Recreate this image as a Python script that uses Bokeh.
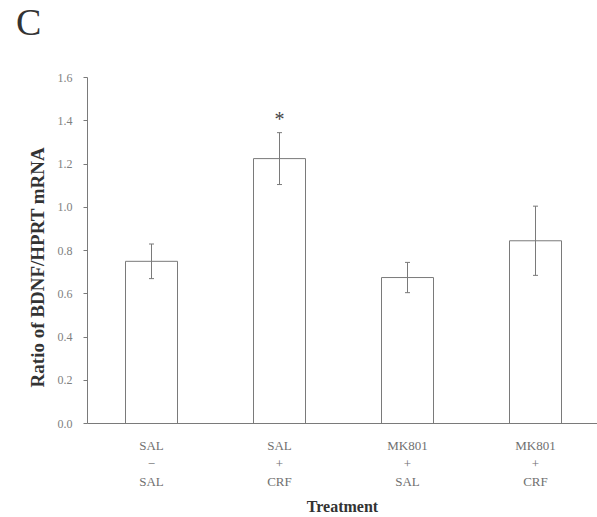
from bokeh.plotting import figure
from bokeh.models import Range1d, Label, ColumnDataSource, Whisker, TeeHead, FixedTicker, Div
from bokeh.layouts import column
from bokeh.embed import file_html
from bokeh.resources import INLINE

# data
panel_letter = "C"
top_line = ["SAL", "SAL", "MK801", "MK801"]
mid_line = ["\u2212", "+", "+", "+"]
bot_line = ["SAL", "CRF", "SAL", "CRF"]
means = [0.75, 1.225, 0.675, 0.845]
errors = [0.08, 0.12, 0.07, 0.16]
y_ticks = [0.0, 0.2, 0.4, 0.6, 0.8, 1.0, 1.2, 1.4, 1.6]

xs = [i + 0.5 for i in range(len(means))]
SERIF = "Liberation Serif"
GRAY = "#7a7a7a"
LBL = "#707070"
TOP_H = 46

letter = Div(text=panel_letter, width=597, height=TOP_H,
             styles={"font-family": SERIF, "font-size": "38px", "color": "#333333",
                     "line-height": "1.2", "padding-left": "16px", "padding-top": "0px",
                     "margin": "0px"})

p = figure(width=597, height=517 - TOP_H, output_backend="svg", toolbar_location=None,
           x_range=Range1d(0, 510 / 128), y_range=Range1d(0, 1.6),
           min_border_left=87, min_border_right=0, min_border_top=77 - TOP_H,
           min_border_bottom=94)
p.outline_line_color = None
p.grid.visible = False

p.vbar(x=xs, top=means, width=52 / 128, bottom=0, fill_color="white",
       line_color=GRAY, line_width=1)

src = ColumnDataSource(dict(x=xs, up=[m + e for m, e in zip(means, errors)],
                            lo=[m - e for m, e in zip(means, errors)]))
p.add_layout(Whisker(source=src, base="x", upper="up", lower="lo", level="overlay",
                     line_color=GRAY, line_width=1,
                     upper_head=TeeHead(size=5, line_color=GRAY, line_width=1),
                     lower_head=TeeHead(size=5, line_color=GRAY, line_width=1)))

# y axis
ya = p.yaxis[0]
ya.ticker = FixedTicker(ticks=y_ticks)
ya.major_label_overrides = {t: f"{t:.1f}" for t in y_ticks}
ya.major_label_text_font = SERIF
ya.major_label_text_font_size = "12px"
ya.major_label_text_color = "#808080"
ya.axis_line_color = GRAY
ya.major_tick_line_color = GRAY
ya.major_tick_out = 4
ya.major_tick_in = 0
ya.minor_tick_line_color = None
ya.major_label_standoff = 11
ya.axis_label = "Ratio of BDNF/HPRT mRNA" + "\u00a0" * 7
ya.axis_label_text_font = SERIF
ya.axis_label_text_font_size = "19px"
ya.axis_label_text_font_style = "bold"
ya.axis_label_text_color = "#333333"
ya.axis_label_standoff = 7

# x axis with three-line category labels
xa = p.xaxis[0]
xa.ticker = FixedTicker(ticks=xs)
xa.major_label_overrides = {x: f"{a}\n{b}\n{c}" for x, a, b, c in zip(xs, top_line, mid_line, bot_line)}
xa.major_label_text_font = SERIF
xa.major_label_text_font_size = "13px"
xa.major_label_text_color = LBL
xa.major_label_text_line_height = 1.2
xa.major_label_standoff = 8
xa.axis_line_color = GRAY
xa.major_tick_line_color = None
xa.minor_tick_line_color = None
xa.axis_label = "Treatment"
xa.axis_label_text_font = SERIF
xa.axis_label_text_font_size = "16px"
xa.axis_label_text_font_style = "bold"
xa.axis_label_text_color = "#333333"
xa.axis_label_standoff = 6

p.add_layout(Label(x=xs[1], y=means[1] + errors[1], y_offset=14, text="*", text_font=SERIF,
                   text_font_size="20px", text_color="#444444",
                   text_align="center", text_baseline="middle"))

layout = column(letter, p, spacing=0)
open("out.html", "w").write(file_html(layout, INLINE))
